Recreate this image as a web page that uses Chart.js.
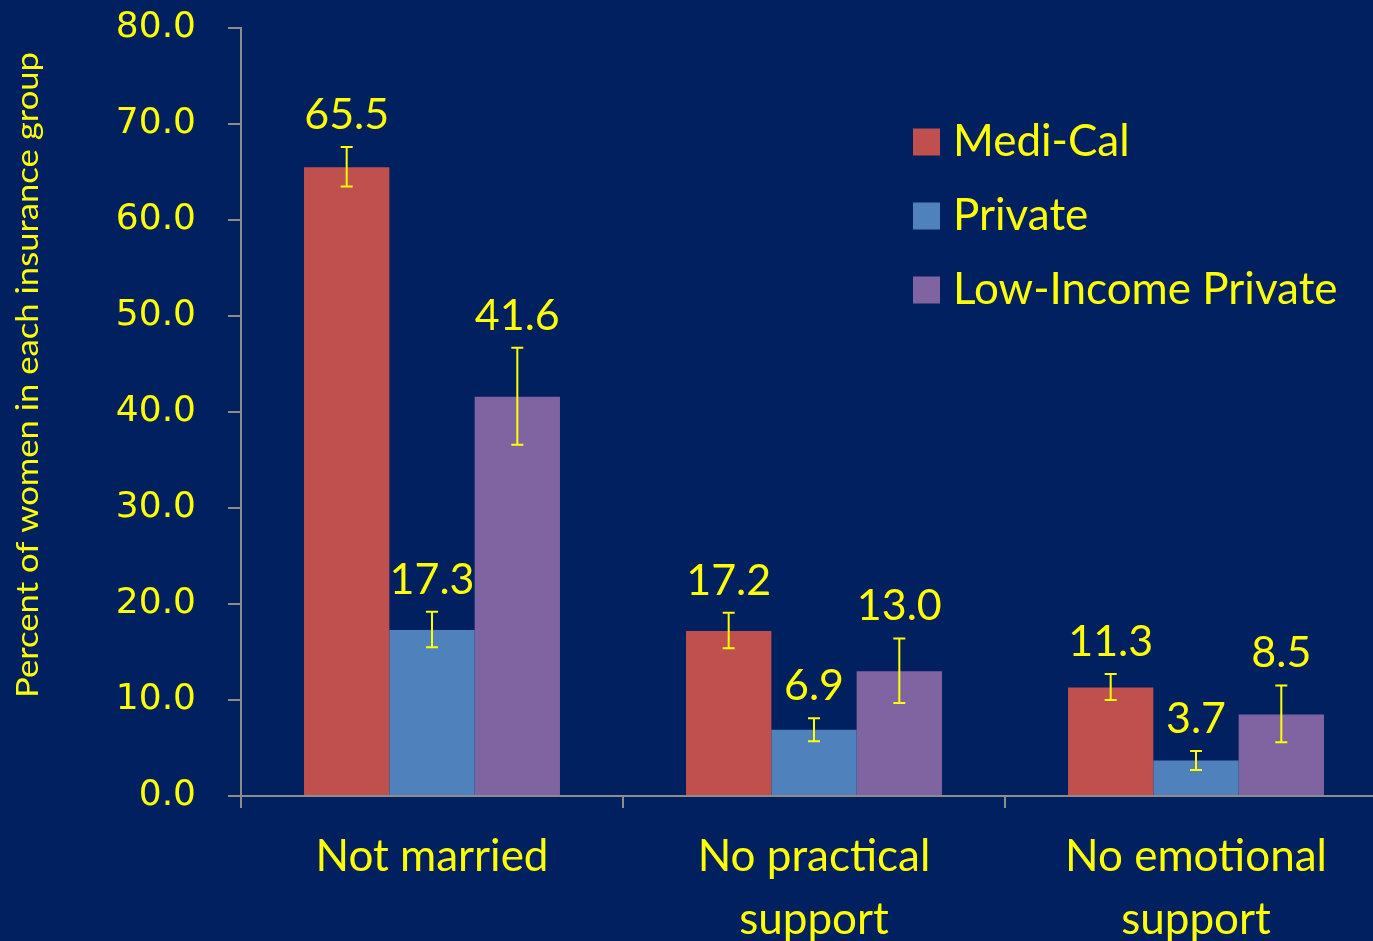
<!DOCTYPE html>
<html>
<head>
<meta charset="utf-8">
<script src="https://cdn.jsdelivr.net/npm/chart.js@4.4.1/dist/chart.umd.min.js"></script>
<style>
  html, body { margin:0; padding:0; background:#002060; overflow:hidden; width:1373px; height:941px; }
  canvas { display:block; }
</style>
</head>
<body>
<canvas id="c" width="1400" height="950"></canvas>
<script>
// ---- data ----
const categories = [["Not married"], ["No practical", "support"], ["No emotional", "support"]];
const seriesNames = ["Medi-Cal", "Private", "Low-Income Private"];
const mediCal = [65.5, 17.2, 11.3];
const privateIns = [17.3, 6.9, 3.7];
const lowIncomePrivate = [41.6, 13.0, 8.5];
// error bar bounds
const mediCalLow = [63.5, 15.4, 10.0];
const mediCalHigh = [67.6, 19.1, 12.7];
const privateLow = [15.5, 5.7, 2.7];
const privateHigh = [19.2, 8.1, 4.7];
const lowIncomeLow = [36.6, 9.7, 5.6];
const lowIncomeHigh = [46.7, 16.4, 11.5];
const yTickValues = [0, 10, 20, 30, 40, 50, 60, 70, 80];
const yTitle = "Percent of women in each insurance group";

// ---- styles ----
const colors = ["#C0504D", "#4F81BD", "#8064A2"];
const YELLOW = "#FFFF00";
const AXIS = "#8C8C8C";
const LABEL_FONT = "Lato";

const seriesValues = [mediCal, privateIns, lowIncomePrivate];
const seriesLow = [mediCalLow, privateLow, lowIncomeLow];
const seriesHigh = [mediCalHigh, privateHigh, lowIncomeHigh];

const extrasPlugin = {
  id: 'extras',
  afterDatasetsDraw(chart) {
    const ctx = chart.ctx;
    const ys = chart.scales.y;
    ctx.save();
    chart.data.datasets.forEach((ds, i) => {
      const meta = chart.getDatasetMeta(i);
      meta.data.forEach((bar, j) => {
        const x = bar.x;
        const yT = ys.getPixelForValue(ds.errHigh[j]);
        const yB = ys.getPixelForValue(ds.errLow[j]);
        ctx.strokeStyle = YELLOW;
        ctx.lineWidth = 2;
        ctx.beginPath();
        ctx.moveTo(x, yT); ctx.lineTo(x, yB);
        ctx.moveTo(x - 6, yT); ctx.lineTo(x + 6, yT);
        ctx.moveTo(x - 6, yB); ctx.lineTo(x + 6, yB);
        ctx.stroke();
        ctx.fillStyle = YELLOW;
        ctx.font = "43px " + LABEL_FONT;
        ctx.textAlign = "center";
        ctx.textBaseline = "middle";
        ctx.fillText(ds.data[j].toFixed(1), x, yT - 32);
      });
    });
    // legend
    ctx.textAlign = "left";
    ctx.textBaseline = "middle";
    ctx.font = "44px " + LABEL_FONT;
    chart.data.datasets.forEach((ds, i) => {
      const cy = 142 + i * 74;
      ctx.fillStyle = ds.backgroundColor;
      ctx.fillRect(913, cy - 13.5, 27, 27);
      ctx.fillStyle = YELLOW;
      ctx.fillText(ds.label, 953, cy);
    });
    // y title
    ctx.save();
    ctx.translate(28, 375);
    ctx.rotate(-Math.PI / 2);
    ctx.font = "31px " + LABEL_FONT;
    const w = ctx.measureText(yTitle).width;
    ctx.scale(646 / w, 1);
    ctx.textAlign = "center";
    ctx.textBaseline = "middle";
    ctx.fillStyle = YELLOW;
    ctx.fillText(yTitle, 0, 0);
    ctx.restore();
    ctx.restore();
  }
};

new Chart(document.getElementById('c'), {
  type: 'bar',
  data: {
    labels: categories,
    datasets: seriesNames.map((n, i) => ({
      label: n,
      data: seriesValues[i],
      errLow: seriesLow[i],
      errHigh: seriesHigh[i],
      backgroundColor: colors[i],
      borderWidth: 0,
      categoryPercentage: 0.67,
      barPercentage: 1.0
    }))
  },
  options: {
    responsive: false,
    animation: false,
    layout: { padding: { left: 112, right: 13, top: 28, bottom: 3 } },
    plugins: { legend: { display: false }, tooltip: { enabled: false } },
    scales: {
      x: {
        afterFit(scale) { scale.height = 151; scale.paddingLeft = 0; scale.paddingRight = 0; },
        grid: { display: true, drawOnChartArea: false, offset: true, color: AXIS, tickLength: 12, lineWidth: 2 },
        border: { color: AXIS, width: 2 },
        ticks: { color: YELLOW, font: { family: LABEL_FONT, size: 44, lineHeight: 1.43 }, padding: 17, maxRotation: 0, minRotation: 0 }
      },
      y: {
        min: 0, max: 80,
        afterFit(scale) { scale.width = 129; scale.paddingTop = 0; scale.paddingBottom = 0; },
        afterBuildTicks(scale) { scale.ticks = yTickValues.map(v => ({ value: v })); },
        grid: { display: true, drawOnChartArea: false, color: AXIS, tickLength: 13, lineWidth: 2 },
        border: { color: AXIS, width: 2 },
        ticks: {
          color: YELLOW, padding: 32,
          font: { family: "'DejaVu Sans'", size: 36 },
          callback: v => Number(v).toFixed(1)
        }
      }
    }
  },
  plugins: [extrasPlugin]
});
</script>
</body>
</html>
